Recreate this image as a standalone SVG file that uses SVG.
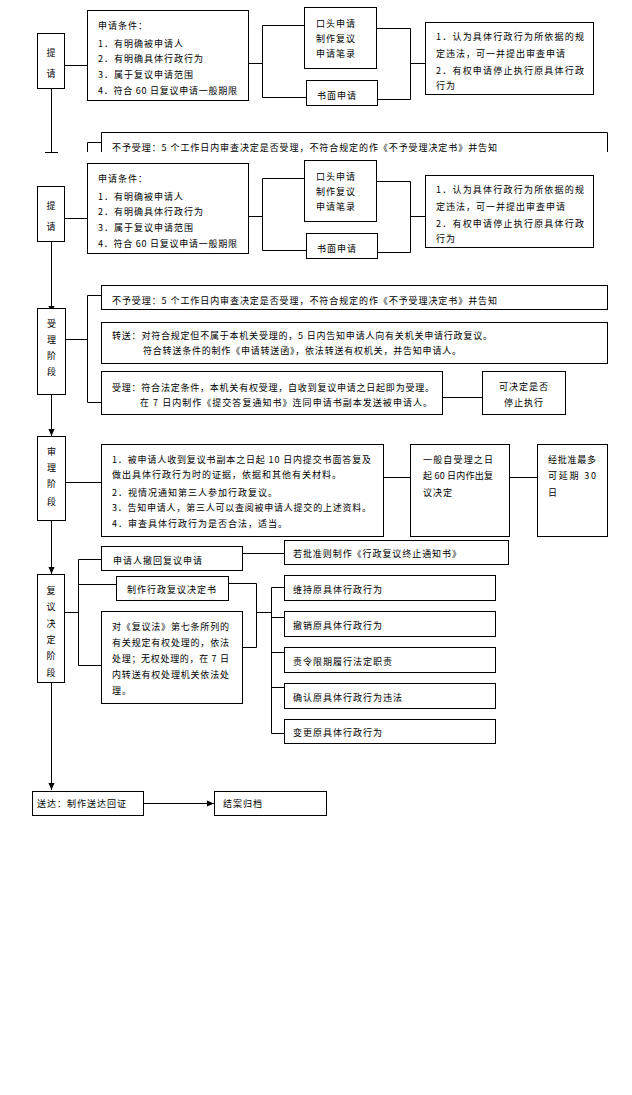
<svg xmlns="http://www.w3.org/2000/svg" width="632" height="1095" viewBox="0 0 632 1095">
<style>
.b{fill:#fff;stroke:#000;stroke-width:1}
.l{fill:none;stroke:#000;stroke-width:1}
text{font-family:"Noto Sans CJK SC","Noto Sans",sans-serif;font-size:9px;letter-spacing:1px;fill:#000;dominant-baseline:central}
.v{text-anchor:middle;letter-spacing:0}
.c{text-anchor:middle}
</style>
<defs>
<marker id="ah" viewBox="0 0 8 8" refX="8" refY="4" markerWidth="7" markerHeight="7" markerUnits="userSpaceOnUse" orient="auto"><path d="M0,0.5 L8,4 L0,7.5 z" fill="#000"/></marker>
</defs>
<rect width="632" height="1095" fill="#fff"/>

<g id="connectors">
<!-- first copy -->
<path class="l" d="M65,65.5 H87"/>
<path class="l" d="M248,63.5 H262.5 M262.5,25.5 V97.5 M262.5,25.5 H304 M262.5,97.5 H306"/>
<path class="l" d="M376,28.5 H410.5 M377,99.5 H410.5 M410.5,28.5 V99.5 M410.5,63.5 H425"/>
<path class="l" d="M51.5,89 V152 M45,152.5 H58"/>
<path class="l" d="M101,142.5 H87.5 V152"/>
<!-- second copy -->
<path class="l" d="M65,218.5 H87"/>
<path class="l" d="M248,216.5 H262.5 M262.5,178.5 V250.5 M262.5,178.5 H304 M262.5,250.5 H306"/>
<path class="l" d="M376,181.5 H410.5 M377,252.5 H410.5 M410.5,181.5 V252.5 M410.5,216.5 H425"/>
<path class="l" d="M51.5,242 V313" marker-end="url(#ah)"/>
<!-- 受理 -->
<path class="l" d="M65,339.5 H87.5 M87.5,295.5 V402.5 M87.5,295.5 H101 M87.5,402.5 H101"/>
<path class="l" d="M442,397.5 H482"/>
<path class="l" d="M51.5,395 V436" marker-end="url(#ah)"/>
<!-- 审理 -->
<path class="l" d="M65,482.5 H101"/>
<path class="l" d="M383,477.5 H410 M509,477.5 H537"/>
<path class="l" d="M51.5,520 V574" marker-end="url(#ah)"/>
<!-- 复议决定 -->
<path class="l" d="M64,612.5 H78.5 M78.5,559.5 V665.5 M78.5,559.5 H101 M78.5,584.5 H116 M78.5,665.5 H101"/>
<path class="l" d="M242,553.5 H284"/>
<path class="l" d="M228,583.5 H256.5 V647.5 M242,647.5 H256.5 M256.5,612.5 H271.5 M271.5,587.5 V733.5"/>
<path class="l" d="M271.5,587.5 H284 M271.5,617.5 H284 M271.5,652.5 H284 M271.5,687.5 H284 M271.5,733.5 H284"/>
<path class="l" d="M51.5,682 V790" marker-end="url(#ah)"/>
<path class="l" d="M143,803.5 H214" marker-end="url(#ah)"/>
</g>

<!-- ===== first copy ===== -->
<g id="n-tiqing-a"><rect class="b" x="37.5" y="33.5" width="27" height="55"/><text class="v" x="51" y="52">提</text><text class="v" x="51" y="73">请</text></g>
<g id="n-cond-a"><rect class="b" x="87.5" y="10.5" width="161" height="90"/>
<text x="98" y="25">申请条件：</text>
<text x="98" y="43">1．有明确被申请人</text>
<text x="98" y="58">2．有明确具体行政行为</text>
<text x="98" y="74">3．属于复议申请范围</text>
<text x="98" y="90" textLength="140">4．符合 60 日复议申请一般期限</text></g>
<g id="n-oral-a"><rect class="b" x="304.5" y="7.5" width="72" height="61"/>
<text x="316" y="23">口头申请</text><text x="316" y="38">制作复议</text><text x="316" y="53">申请笔录</text></g>
<g id="n-written-a"><rect class="b" x="306.5" y="80.5" width="71" height="25"/><text x="317" y="95">书面申请</text></g>
<g id="n-right-a"><rect class="b" x="425.5" y="22.5" width="168" height="72"/>
<text x="436" y="36" textLength="149">1．认为具体行政行为所依据的规</text>
<text x="436" y="53">定违法，可一并提出审查申请</text>
<text x="436" y="70" textLength="149">2．有权申请停止执行原具体行政</text>
<text x="436" y="85">行为</text></g>
<g id="n-buyu-clipped"><path class="l" d="M101.5,152 V132.5 H607.5 V152"/>
<text x="112" y="147" textLength="386">不予受理：5 个工作日内审查决定是否受理，不符合规定的作《不予受理决定书》并告知</text></g>

<!-- ===== second copy ===== -->
<g id="n-tiqing"><rect class="b" x="37.5" y="186.5" width="27" height="55"/><text class="v" x="51" y="205">提</text><text class="v" x="51" y="226">请</text></g>
<g id="n-cond"><rect class="b" x="87.5" y="163.5" width="161" height="90"/>
<text x="98" y="178">申请条件：</text>
<text x="98" y="196">1．有明确被申请人</text>
<text x="98" y="211">2．有明确具体行政行为</text>
<text x="98" y="227">3．属于复议申请范围</text>
<text x="98" y="243" textLength="140">4．符合 60 日复议申请一般期限</text></g>
<g id="n-oral"><rect class="b" x="304.5" y="160.5" width="72" height="61"/>
<text x="316" y="176">口头申请</text><text x="316" y="191">制作复议</text><text x="316" y="206">申请笔录</text></g>
<g id="n-written"><rect class="b" x="306.5" y="233.5" width="71" height="25"/><text x="317" y="248">书面申请</text></g>
<g id="n-right"><rect class="b" x="425.5" y="175.5" width="168" height="72"/>
<text x="436" y="189" textLength="149">1．认为具体行政行为所依据的规</text>
<text x="436" y="206">定违法，可一并提出审查申请</text>
<text x="436" y="223" textLength="149">2．有权申请停止执行原具体行政</text>
<text x="436" y="238">行为</text></g>

<!-- ===== 受理阶段 ===== -->
<g id="n-shouli-stage"><rect class="b" x="37.5" y="308.5" width="28" height="86"/>
<text class="v" x="51.5" y="323">受</text><text class="v" x="51.5" y="339">理</text><text class="v" x="51.5" y="355">阶</text><text class="v" x="51.5" y="371">段</text></g>
<g id="n-buyu"><rect class="b" x="101.5" y="285.5" width="506" height="24"/>
<text x="112" y="300.5" textLength="386">不予受理：5 个工作日内审查决定是否受理，不符合规定的作《不予受理决定书》并告知</text></g>
<g id="n-zhuansong"><rect class="b" x="101.5" y="322.5" width="506" height="41"/>
<text x="112" y="335" textLength="381">转送：对符合规定但不属于本机关受理的，5 日内告知申请人向有关机关申请行政复议。</text>
<text x="143" y="350" textLength="319">符合转送条件的制作《申请转送函》，依法转送有权机关，并告知申请人。</text></g>
<g id="n-shouli"><rect class="b" x="101.5" y="371.5" width="341" height="43"/>
<text x="112" y="387" textLength="323">受理：符合法定条件，本机关有权受理，自收到复议申请之日起即为受理。</text>
<text x="140" y="402" textLength="293">在 7 日内制作《提交答复通知书》连同申请书副本发送被申请人。</text></g>
<g id="n-stop"><rect class="b" x="482.5" y="371.5" width="83" height="43"/>
<text class="c" x="524" y="386">可决定是否</text><text class="c" x="524" y="402">停止执行</text></g>

<!-- ===== 审理阶段 ===== -->
<g id="n-shenli-stage"><rect class="b" x="37.5" y="436.5" width="28" height="84"/>
<text class="v" x="51.5" y="451">审</text><text class="v" x="51.5" y="467">理</text><text class="v" x="51.5" y="483">阶</text><text class="v" x="51.5" y="501">段</text></g>
<g id="n-shenli"><rect class="b" x="101.5" y="444.5" width="282" height="92"/>
<text x="112" y="459" textLength="260">1．被申请人收到复议书副本之日起 10 日内提交书面答复及</text>
<text x="112" y="474">做出具体行政行为时的证据，依据和其他有关材料。</text>
<text x="112" y="492">2．视情况通知第三人参加行政复议。</text>
<text x="112" y="507" textLength="260">3．告知申请人，第三人可以查阅被申请人提交的上述资料。</text>
<text x="112" y="523">4．审查具体行政行为是否合法，适当。</text></g>
<g id="n-60days"><rect class="b" x="410.5" y="444.5" width="99" height="92"/>
<text x="423" y="459" textLength="71">一般自受理之日</text>
<text x="423" y="475" textLength="71">起 60 日内作出复</text>
<text x="423" y="492">议决定</text></g>
<g id="n-30days"><rect class="b" x="537.5" y="444.5" width="70" height="92"/>
<text x="548" y="459" textLength="49">经批准最多</text>
<text x="548" y="475" textLength="49">可延期 30</text>
<text x="548" y="492">日</text></g>

<!-- ===== 复议决定阶段 ===== -->
<g id="n-decision-stage"><rect class="b" x="37.5" y="574.5" width="27" height="108"/>
<text class="v" x="51" y="590">复</text><text class="v" x="51" y="606">议</text><text class="v" x="51" y="623">决</text><text class="v" x="51" y="639">定</text><text class="v" x="51" y="655">阶</text><text class="v" x="51" y="672">段</text></g>
<g id="n-withdraw"><rect class="b" x="101.5" y="546.5" width="141" height="24"/><text x="113" y="560">申请人撤回复议申请</text></g>
<g id="n-terminate"><rect class="b" x="284.5" y="540.5" width="224" height="24"/><text x="293" y="553" textLength="169">若批准则制作《行政复议终止通知书》</text></g>
<g id="n-make"><rect class="b" x="116.5" y="576.5" width="112" height="24"/><text x="127" y="589">制作行政复议决定书</text></g>
<g id="n-law"><rect class="b" x="101.5" y="611.5" width="141" height="92"/>
<text x="112" y="626" textLength="118">对《复议法》第七条所列的</text>
<text x="112" y="642" textLength="118">有关规定有权处理的，依法</text>
<text x="112" y="658" textLength="118">处理；无权处理的，在 7 日</text>
<text x="112" y="674" textLength="118">内转送有权处理机关依法处</text>
<text x="112" y="690">理。</text></g>
<g id="n-keep"><rect class="b" x="284.5" y="575.5" width="211" height="25"/><text x="293" y="589">维持原具体行政行为</text></g>
<g id="n-revoke"><rect class="b" x="284.5" y="611.5" width="211" height="25"/><text x="293" y="625">撤销原具体行政行为</text></g>
<g id="n-order"><rect class="b" x="284.5" y="647.5" width="211" height="25"/><text x="293" y="661">责令限期履行法定职责</text></g>
<g id="n-confirm"><rect class="b" x="284.5" y="683.5" width="211" height="25"/><text x="293" y="697">确认原具体行政行为违法</text></g>
<g id="n-change"><rect class="b" x="284.5" y="719.5" width="211" height="24"/><text x="293" y="732">变更原具体行政行为</text></g>

<!-- ===== 送达 ===== -->
<g id="n-deliver"><rect class="b" x="32.5" y="791.5" width="111" height="24"/><text x="37" y="803">送达：制作送达回证</text></g>
<g id="n-archive"><rect class="b" x="214.5" y="791.5" width="112" height="24"/><text x="223" y="803">结案归档</text></g>
</svg>
